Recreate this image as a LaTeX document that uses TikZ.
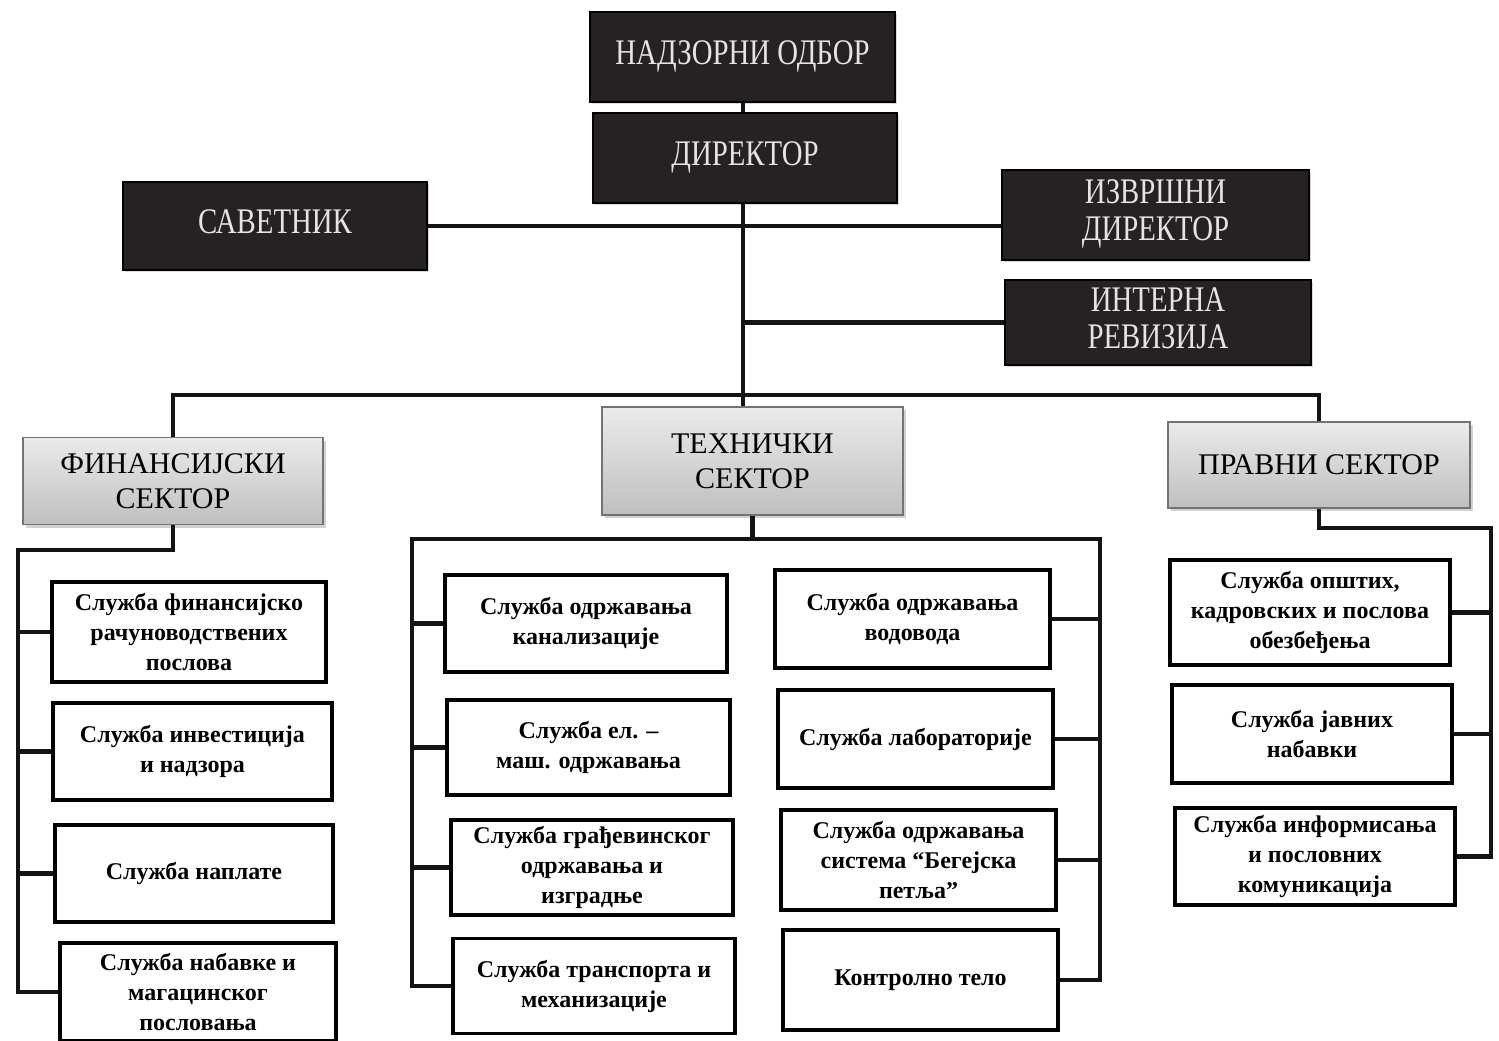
\documentclass[tikz,border=0pt]{standalone}
\usepackage{fontspec}
\usepackage{graphicx}
\setmainfont{Liberation Serif}
\newcommand{\cnd}[1]{\scalebox{0.8}[1]{\begin{tabular}{@{}c@{}}#1\end{tabular}}}
\usetikzlibrary{shadows}
\definecolor{darkbox}{RGB}{38,33,35}
\definecolor{toptext}{RGB}{228,228,228}
\begin{document}
\begin{tikzpicture}[x=0.5pt,y=-0.5pt,
  sz/.style 2 args={minimum width=#1*0.5pt, minimum height=#2*0.5pt},
  topbox/.style={rectangle, fill=darkbox, draw=black, line width=1pt, text=toptext,
    font=\rmfamily\fontsize{18}{18.5}\selectfont, align=center, inner sep=0pt,
    drop shadow={opacity=0.3, shadow xshift=1pt, shadow yshift=-1pt}},
  secbox/.style={rectangle, top color=black!8, bottom color=black!25, draw=black!55,
    line width=0.8pt, font=\rmfamily\fontsize{15}{17.5}\selectfont, align=center, inner sep=0pt,
    drop shadow={opacity=0.35, shadow xshift=1.5pt, shadow yshift=-1.5pt}},
  subbox/.style={rectangle, fill=white, draw=black, line width=1.6pt,
    font=\rmfamily\bfseries\fontsize{12}{15}\selectfont, align=center, inner sep=0pt},
  conn/.style={line width=2.2pt, draw=black!92}
]
\useasboundingbox[fill=white] (0,0) rectangle (1499,1040);

% top level
\node[topbox, sz={305}{90}] (nadzor) at (742.5,57) {\cnd{НАДЗОРНИ ОДБОР}};
\node[topbox, sz={304}{90}] (dir) at (745,158) {\cnd{ДИРЕКТОР}};
\node[topbox, sz={304}{88}] (savet) at (275,226) {\cnd{САВЕТНИК}};
\node[topbox, sz={307}{90}] (izvr) at (1155.5,215) {\cnd{ИЗВРШНИ\\ДИРЕКТОР}};
\node[topbox, sz={306}{85}] (intern) at (1158,322.5) {\cnd{ИНТЕРНА\\РЕВИЗИЈА}};

% sectors
\node[secbox, sz={300}{87}] (fin) at (173,481) {ФИНАНСИЈСКИ\\СЕКТОР};
\node[secbox, sz={301}{108}] (teh) at (752.5,461) {ТЕХНИЧКИ\\СЕКТОР};
\node[secbox, sz={302}{86}] (prav) at (1319,465) {ПРАВНИ СЕКТОР};

% finance services
\node[subbox, sz={274}{100}] (f1) at (189,632) {Служба финансијско\\рачуноводствених\\послова};
\node[subbox, sz={279}{97}] (f2) at (192.5,751.5) {Служба инвестиција\\и надзора};
\node[subbox, sz={278}{97}] (f3) at (194,873.5) {Служба наплате};
\node[subbox, sz={276}{98}] (f4) at (198,992) {Служба набавке и\\магацинског\\пословања};

% technical services
\node[subbox, sz={282}{97}] (t1) at (586,623.5) {Служба одржавања\\канализације};
\node[subbox, sz={283}{95}] (t2) at (588.5,747.5) {Служба ел. –\\маш. одржавања};
\node[subbox, sz={282}{95}] (t3) at (592,867.5) {Служба грађевинског\\одржавања и\\изградње};
\node[subbox, sz={282}{95}] (t4) at (594,986) {Служба транспорта и\\механизације};
\node[subbox, sz={275}{98}] (r1) at (912.5,619) {Служба одржавања\\водовода};
\node[subbox, sz={275}{98}] (r2) at (915.5,739) {Служба лабораторије};
\node[subbox, sz={275}{100}] (r3) at (918.5,860) {Служба одржавања\\система “Бегејска\\петља”};
\node[subbox, sz={275}{100}] (r4) at (920.5,980) {Контролно тело};

% legal services
\node[subbox, sz={280}{105}] (p1) at (1310,612.5) {Служба општих,\\кадровских и послова\\обезбеђења};
\node[subbox, sz={280}{98}] (p2) at (1312,734) {Служба јавних\\набавки};
\node[subbox, sz={280}{97}] (p3) at (1315,856.5) {Служба информисања\\и пословних\\комуникација};

% helper coordinates
\coordinate (trunk) at (743,395);
\coordinate (fL) at (18,550);
\coordinate (tL) at (412,539);
\coordinate (tR) at (1100,539);
\coordinate (pR) at (1491,528);

% connectors: top
\draw[conn] (nadzor.south -| trunk) -- (dir.north -| trunk);
\draw[conn] (dir.south -| trunk) -- (teh.north -| trunk);
\draw[conn] (savet.east) -- (savet.east -| izvr.west);
\draw[conn] (intern.west) -- (intern.west -| trunk);
\draw[conn] (fin.north) |- (trunk) -| (prav.north);

% finance
\draw[conn] (fin.south) |- (fL) -- (fL |- f4.west) -- (f4.west);
\draw[conn] (fL |- f1.west) -- (f1.west);
\draw[conn] (fL |- f2.west) -- (f2.west);
\draw[conn] (fL |- f3.west) -- (f3.west);

% technical
\draw[conn] (teh.south) -- (teh.south |- tL);
\draw[conn] (t4.west) -| (tL) -- (tR) |- (r4.east);
\draw[conn] (tL |- t1.west) -- (t1.west);
\draw[conn] (tL |- t2.west) -- (t2.west);
\draw[conn] (tL |- t3.west) -- (t3.west);
\draw[conn] (tR |- r1.east) -- (r1.east);
\draw[conn] (tR |- r2.east) -- (r2.east);
\draw[conn] (tR |- r3.east) -- (r3.east);

% legal
\draw[conn] (prav.south) |- (pR) |- (p3.east);
\draw[conn] (pR |- p1.east) -- (p1.east);
\draw[conn] (pR |- p2.east) -- (p2.east);
\end{tikzpicture}
\end{document}
